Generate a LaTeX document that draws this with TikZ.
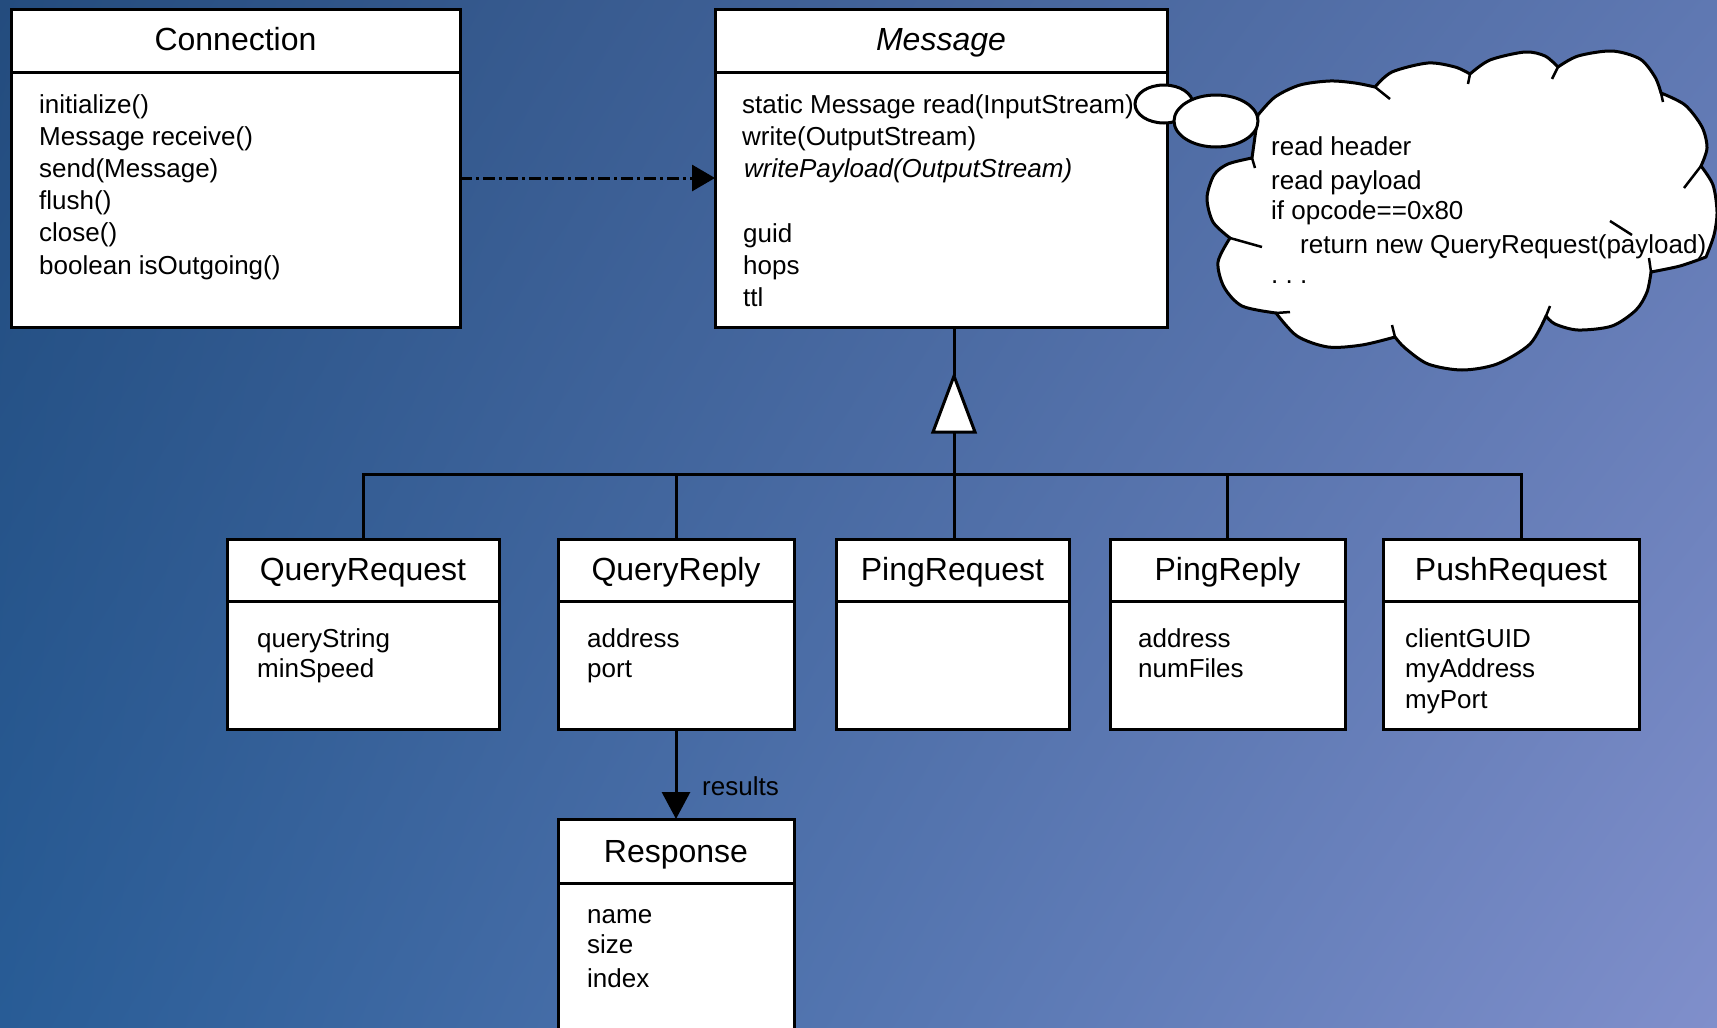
\documentclass[tikz,border=0pt]{standalone}
\usepackage{fontspec}
\setmainfont{Liberation Sans}
\usetikzlibrary{arrows.meta,shadings}
\definecolor{bgUL}{RGB}{36,76,126}
\definecolor{bgUR}{RGB}{95,120,178}
\definecolor{bgLL}{RGB}{40,92,150}
\definecolor{bgLR}{RGB}{128,143,203}
\tikzset{
  ln/.style={line width=3pt, black},
  classbox/.style={draw, line width=3pt, fill=white, inner sep=0pt, outer sep=0pt, anchor=north west},
  hdr/.style={font=\fontsize{32}{38}\selectfont, anchor=base, inner sep=0pt},
  txt/.style={font=\fontsize{26}{31}\selectfont, anchor=base west, inner sep=0pt},
  dashdot/.style={dash pattern=on 12pt off 4pt on 3pt off 4pt},
  tick/.style={line width=2.5pt, black},
}
\begin{document}
\begin{tikzpicture}[x=1pt,y=-1pt]
\useasboundingbox (0,0) rectangle (1717,1028);
\clip (0,0) rectangle (1717,1028);
\shade[upper left=bgUL, upper right=bgUR, lower left=bgLL, lower right=bgLR] (0,0) rectangle (1717,1028);

% Connection
\node[classbox, minimum width=449pt, minimum height=318pt] (conn) at (11,9) {};
\draw[ln] ([yshift=-63pt]conn.north west) -- ([yshift=-63pt]conn.north east);
\node[hdr] (connT) at (235.5,50) {Connection};
\foreach \t [count=\i from 0] in {initialize(), Message receive(), send(Message), flush(), close(), boolean isOutgoing()}
  \node[txt] (connA\i) at (39,113+32.2*\i) {\t};

% Message
\node[classbox, minimum width=452pt, minimum height=318pt] (msg) at (715,9) {};
\draw[ln] ([yshift=-63pt]msg.north west) -- ([yshift=-63pt]msg.north east);

% cloud
\filldraw[ln, fill=white, line join=round]
  (1258,115) -- plot[smooth] coordinates {(1258,115) (1275,97) (1300,85) (1330,81) (1355,83) (1375,87)}
  -- plot[smooth] coordinates {(1375,87) (1392,72) (1428,63) (1455,67) (1470,74)}
  -- plot[smooth] coordinates {(1470,74) (1490,60) (1525,52) (1545,56) (1558,67)}
  -- plot[smooth] coordinates {(1558,67) (1578,56) (1612,51) (1640,59) (1655,77) (1661,93)}
  -- plot[smooth] coordinates {(1661,93) (1685,105) (1702,127) (1707,148) (1701,166)}
  -- plot[smooth] coordinates {(1701,166) (1713,185) (1717,212) (1714,235) (1706,257)}
  -- plot[smooth] coordinates {(1706,257) (1680,266) (1651,272)}
  -- plot[smooth] coordinates {(1651,272) (1647,292) (1636,310) (1612,326) (1578,330) (1555,324) (1546,316)}
  -- plot[smooth] coordinates {(1546,316) (1530,344) (1497,364) (1462,370) (1428,364) (1405,348) (1395,337)}
  -- plot[smooth] coordinates {(1395,337) (1362,345) (1328,347) (1297,336) (1276,313)}
  -- plot[smooth] coordinates {(1276,313) (1242,306) (1224,287) (1218,262) (1230,238)}
  -- plot[smooth] coordinates {(1230,238) (1213,222) (1207,198) (1214,175) (1228,164) (1252,158)}
  -- cycle;
\draw[tick] (1375,87) -- (1390,99);
\draw[tick] (1470,74) -- (1468,84);
\draw[tick] (1558,67) -- (1552,79);
\draw[tick] (1661,93) -- (1663,102);
\draw[tick] (1701,166) -- (1684,188);
\draw[tick] (1610,221) -- (1632,235);
\draw[tick] (1651,272) -- (1649,258);
\draw[tick] (1546,316) -- (1550,306);
\draw[tick] (1395,337) -- (1392,325);
\draw[tick] (1276,313) -- (1290,312);
\draw[tick] (1230,238) -- (1262,247);
\draw[tick] (1252,158) -- (1255,168);

% thought bubbles
\filldraw[ln, fill=white] (1164,104) ellipse [x radius=29, y radius=19];
\filldraw[ln, fill=white] (1216,121) ellipse [x radius=42, y radius=26];

\node[hdr, font=\fontsize{32}{38}\selectfont\itshape] (msgT) at (941,50) {Message};
\node[txt] (msgA0) at (742,113) {static Message read(InputStream)};
\node[txt] (msgA1) at (742,145) {write(OutputStream)};
\node[txt, font=\fontsize{26}{31}\selectfont\itshape] (msgA2) at (744,177) {writePayload(OutputStream)};
\node[txt] (msgA3) at (743,242) {guid};
\node[txt] (msgA4) at (743,274) {hops};
\node[txt] (msgA5) at (743,306) {ttl};

\node[txt] (cl1) at (1271,155) {read header};
\node[txt] (cl2) at (1271,189) {read payload};
\node[txt] (cl3) at (1271,219) {if opcode==0x80};
\node[txt] (cl4) at (1300,253) {return new QueryRequest(payload)};
\node[txt] (cl5) at (1271,283) {.\ .\ .};

% subclasses
\node[classbox, minimum width=272pt, minimum height=190pt] (qreq) at (227,539) {};
\node[classbox, minimum width=236pt, minimum height=190pt] (qrep) at (558,539) {};
\node[classbox, minimum width=233pt, minimum height=190pt] (preq) at (836,539) {};
\node[classbox, minimum width=235pt, minimum height=190pt] (prep) at (1110,539) {};
\node[classbox, minimum width=256pt, minimum height=190pt] (push) at (1383,539) {};
\foreach \n in {qreq,qrep,preq,prep,push}
  \draw[ln] ([yshift=-62pt]\n.north west) -- ([yshift=-62pt]\n.north east);

\node[hdr] (qreqT) at (363,580) {QueryRequest};
\node[hdr] (qrepT) at (676,580) {QueryReply};
\node[hdr] (preqT) at (952.5,580) {PingRequest};
\node[hdr] (prepT) at (1227.5,580) {PingReply};
\node[hdr] (pushT) at (1511,580) {PushRequest};

\node[txt] (qreqA0) at (257,647) {queryString};
\node[txt] (qreqA1) at (257,677) {minSpeed};
\node[txt] (qrepA0) at (587,647) {address};
\node[txt] (qrepA1) at (587,677) {port};
\node[txt] (prepA0) at (1138,647) {address};
\node[txt] (prepA1) at (1138,677) {numFiles};
\node[txt] (pushA0) at (1405,647) {clientGUID};
\node[txt] (pushA1) at (1405,677) {myAddress};
\node[txt] (pushA2) at (1405,708) {myPort};

% Response
\node[classbox, minimum width=236pt, minimum height=226pt] (resp) at (558,819) {};
\draw[ln] ([yshift=-64pt]resp.north west) -- ([yshift=-64pt]resp.north east);
\node[hdr] (respT) at (676,862) {Response};
\node[txt] (respA0) at (587,923) {name};
\node[txt] (respA1) at (587,953) {size};
\node[txt] (respA2) at (587,987) {index};

% connectors
\draw[ln, dashdot, -{Triangle[length=23pt,width=26pt]}] ([yshift=-10pt]conn.east) -- ([yshift=-10pt]msg.west);

\coordinate (gtop) at (954,327);
\coordinate (tapex) at (954,376);
\coordinate (tbase) at (954,432);
\coordinate (hb) at (954,474);
\coordinate (pushtop) at (1521,539);
\draw[ln] (gtop) -- (tapex);
\draw[ln, fill=white, line join=miter] (tapex) -- (975,432) -- (933,432) -- cycle;
\draw[ln] (tbase) -- (hb);
\draw[ln] (qreq.north) |- (hb) -| (pushtop);
\draw[ln] (qrep.north) -- (qrep.north |- hb);
\draw[ln] (hb) -- (hb |- preq.north);
\draw[ln] (prep.north) -- (prep.north |- hb);

\draw[ln, -{Triangle[length=27pt,width=28pt]}] (qrep.south) -- (resp.north);
\node[txt] (reslbl) at (702,795) {results};
\end{tikzpicture}
\end{document}
